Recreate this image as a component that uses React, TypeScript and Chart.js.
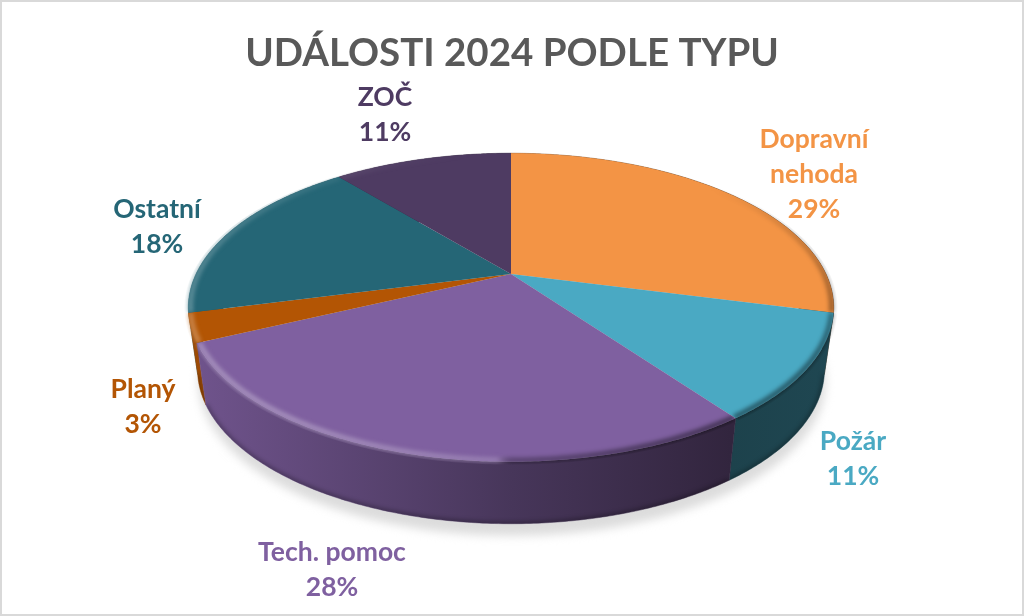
import { useEffect, useRef } from "react";
import { Chart, registerables } from "chart.js";

Chart.register(...registerables);

const CATEGORIES = ["Dopravní nehoda", "Požár", "Tech. pomoc", "Planý", "Ostatní", "ZOČ"];
const VALUES = [29, 11, 28, 3, 18, 11];
const COLORS = ["#F39445", "#4AA9C3", "#7F60A0", "#B35504", "#256676", "#4E3B62"];
const LABEL_LINES = [["Dopravní", "nehoda"], ["Požár"], ["Tech. pomoc"], ["Planý"], ["Ostatní"], ["ZOČ"]];
// label centres, placed by hand in the original too
const LABEL_POS = [
  [814, 139],
  [853, 441],
  [332, 552],
  [143, 389],
  [157, 209],
  [385, 97],
];
const LINE_H = 35;

const W = 1024;
const H = 616;
const FONT = "Lato, sans-serif";

// perspective of the disc: unit circle -> screen
const CX = 511;
const CY = 274;
const RX = 315;
const RY = 147;
const PERSP = -0.217;
const DEPTH = 62;
const RX_LOW = 306;

const project = (a: number, r = 1, low = false) => {
  const u = Math.cos(a) * r;
  const v = Math.sin(a) * r;
  const w = 1 + PERSP * v;
  return {
    x: CX + ((low ? RX_LOW : RX) * u) / w,
    y: CY + (low ? DEPTH : 0) + (RY * v) / w,
  };
};

const hexRgb = (c: string) => [1, 3, 5].map((i) => parseInt(c.slice(i, i + 2), 16));

const shade = (c: string, f: number) => {
  const [r, g, b] = hexRgb(c);
  return `rgb(${Math.round(r * f)},${Math.round(g * f)},${Math.round(b * f)})`;
};

const arcPath = (ctx: CanvasRenderingContext2D, a0: number, a1: number, low: boolean, r = 1, move = false) => {
  const n = Math.max(2, Math.ceil(Math.abs(a1 - a0) / 0.01));
  for (let i = 0; i <= n; i++) {
    const p = project(a0 + ((a1 - a0) * i) / n, r, low);
    if (i === 0 && move) ctx.moveTo(p.x, p.y);
    else ctx.lineTo(p.x, p.y);
  }
};

const wallPath = (ctx: CanvasRenderingContext2D, a0: number, a1: number) => {
  ctx.beginPath();
  arcPath(ctx, a0, a1, false, 1, true);
  arcPath(ctx, a1, a0, true);
  ctx.closePath();
};

const topPath = (ctx: CanvasRenderingContext2D, a0: number, a1: number, r = 1) => {
  ctx.beginPath();
  ctx.moveTo(CX, CY);
  arcPath(ctx, a0, a1, false, r);
  ctx.closePath();
};

// conic gradient for the rim: pale towards the lower left, dark towards the lower right
const rimGradient = (ctx: CanvasRenderingContext2D, color: string) => {
  const [r, g, b] = hexRgb(color);
  const mix = (c: number) => Math.round(c + (255 - c) * 0.35);
  const stops: [number, string][] = [];
  for (let i = 0; i < 180; i++) {
    const a = (i / 180) * Math.PI * 2;
    const p = project(a);
    let s = Math.atan2(p.y - CY, p.x - CX);
    if (s < 0) s += Math.PI * 2;
    const d = a - 2.35;
    const light = Math.max(0, Math.cos(d > 0 ? d * 0.7 : d));
    const dark = Math.max(0, Math.cos(a - 0.8));
    const css =
      light > dark
        ? `rgba(${mix(r)},${mix(g)},${mix(b)},${Math.pow(light, 1.6) * 0.9})`
        : `rgba(0,0,0,${Math.pow(dark, 1.4) * 0.5})`;
    stops.push([s / (Math.PI * 2), css]);
  }
  const grad = ctx.createConicGradient(0, CX, CY);
  stops.sort((x, y) => x[0] - y[0]).forEach(([s, css]) => grad.addColorStop(s, css));
  return grad;
};

const pie3d = {
  id: "pie3d",
  beforeDatasetDraw(chart: any) {
    const { ctx } = chart;
    const arcs = chart.getDatasetMeta(0).data;

    // soft shadow on the floor
    ctx.save();
    ctx.filter = "blur(5px)";
    ctx.fillStyle = "#dcdcdc";
    ctx.beginPath();
    for (let i = 0; i <= 200; i++) {
      const p = project((i / 200) * Math.PI * 2, 1, true);
      ctx.lineTo(p.x + 1, p.y + 12);
    }
    ctx.closePath();
    ctx.fill();
    ctx.restore();

    // side walls, back ones first
    const order = arcs
      .map((arc: any, i: number) => ({ arc, i }))
      .sort(
        (p: any, q: any) =>
          Math.sin((p.arc.startAngle + p.arc.endAngle) / 2) - Math.sin((q.arc.startAngle + q.arc.endAngle) / 2)
      );
    order.forEach(({ arc, i }: any) => {
      const g = ctx.createLinearGradient(190, 0, 834, 0);
      g.addColorStop(0, shade(COLORS[i], 0.88));
      g.addColorStop(0.5, shade(COLORS[i], 0.56));
      g.addColorStop(0.84, shade(COLORS[i], 0.39));
      g.addColorStop(1, shade(COLORS[i], 0.42));
      wallPath(ctx, arc.startAngle, arc.endAngle);
      ctx.fillStyle = g;
      ctx.fill();
      ctx.strokeStyle = g;
      ctx.lineWidth = 0.5;
      ctx.stroke();

      // darker foot of the wall
      ctx.save();
      ctx.clip();
      ctx.filter = "blur(2px)";
      ctx.beginPath();
      arcPath(ctx, arc.startAngle, arc.endAngle, true, 1, true);
      ctx.strokeStyle = "rgba(0,0,0,0.3)";
      ctx.lineWidth = 4;
      ctx.stroke();
      ctx.restore();
    });

    // top faces
    arcs.forEach((arc: any, i: number) => {
      topPath(ctx, arc.startAngle, arc.endAngle);
      ctx.fillStyle = COLORS[i];
      ctx.fill();
    });

    // bevel along the rim
    arcs.forEach((arc: any, i: number) => {
      ctx.save();
      topPath(ctx, arc.startAngle, arc.endAngle, 1.012);
      ctx.clip();
      ctx.filter = "blur(2px)";
      ctx.beginPath();
      arcPath(ctx, arc.startAngle, arc.endAngle, false, 0.994, true);
      ctx.lineWidth = 5;
      ctx.strokeStyle = rimGradient(ctx, COLORS[i]);
      ctx.stroke();
      ctx.restore();
    });

    return false;
  },
  afterDraw(chart: any) {
    const { ctx } = chart;

    // data labels
    ctx.save();
    ctx.font = `bold 26.5px ${FONT}`;
    ctx.textAlign = "center";
    ctx.textBaseline = "middle";
    const total = VALUES.reduce((s, v) => s + v, 0);
    VALUES.forEach((v, i) => {
      ctx.fillStyle = COLORS[i];
      const [x, y] = LABEL_POS[i];
      const lines = [...LABEL_LINES[i], `${Math.round((v / total) * 100)}%`];
      lines.forEach((t, j) => ctx.fillText(t, x, y + j * LINE_H));
    });
    ctx.restore();

    // chart frame
    ctx.save();
    ctx.strokeStyle = "#d9d9d9";
    ctx.lineWidth = 2;
    ctx.strokeRect(1, 1, W - 2, H - 2);
    ctx.restore();
  },
};

export default function App() {
  const rootRef = useRef<HTMLCanvasElement | null>(null);

  useEffect(() => {
    if (!rootRef.current) return;
    document.body.style.margin = "0";

    const c = new Chart(rootRef.current, {
      type: "pie",
      data: {
        labels: CATEGORIES,
        datasets: [{ data: VALUES, backgroundColor: COLORS, borderWidth: 0 }],
      },
      options: {
        animation: false,
        responsive: false,
        devicePixelRatio: 1,
        plugins: {
          legend: { display: false },
          tooltip: { enabled: false },
          title: {
            display: true,
            text: "UDÁLOSTI 2024 PODLE TYPU",
            color: "#595959",
            font: { family: FONT, size: 38.5, weight: "bold" },
            padding: { top: 30, bottom: 10 },
          },
        },
      },
      plugins: [pie3d],
    } as any);

    return () => c.destroy();
  }, []);

  return <canvas ref={rootRef} width={W} height={H} style={{ display: "block" }}></canvas>;
}
